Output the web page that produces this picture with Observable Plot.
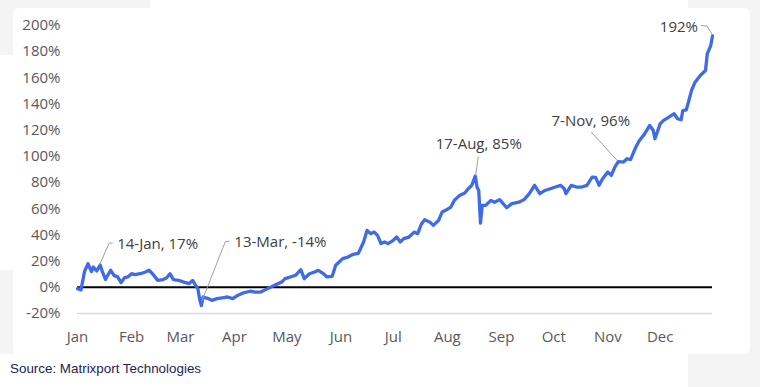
<!DOCTYPE html>
<html>
<head>
<meta charset="utf-8">
<script src="https://cdn.jsdelivr.net/npm/d3@7"></script>
<script src="https://cdn.jsdelivr.net/npm/@observablehq/plot@0.6"></script>
<style>
  html, body { margin: 0; padding: 0; background: #ffffff; }
  #page { position: relative; width: 760px; height: 387px; overflow: hidden; background: #ffffff; }
  .bg { position: absolute; background: #f4f4f4; }
  #panel { position: absolute; left: 13px; top: 8px; width: 737px; height: 346px; background: #ffffff; border-radius: 6px; }
  #chart { position: absolute; left: 0; top: 0; }
  #caption { position: absolute; left: 10px; top: 360px; font-family: "Liberation Sans", Arial, sans-serif; font-size: 13.4px; line-height: 18px; color: #1c2452; white-space: nowrap; }
</style>
</head>
<body>
<div id="page">
  <div class="bg" style="left:0;top:0;width:150px;height:55px;border-bottom-right-radius:40px;"></div>
  <div class="bg" style="left:0;top:270px;width:14px;height:84px;"></div>
  <div class="bg" style="left:688px;top:0;width:72px;height:387px;"></div>
  <div id="panel"></div>
  <div id="chart"></div>
  <div id="caption">Source: Matrixport Technologies</div>
</div>
<script>
const dates = [
  "2023-01-01","2023-01-03","2023-01-05","2023-01-07","2023-01-09","2023-01-10","2023-01-12","2023-01-14","2023-01-15","2023-01-17",
  "2023-01-18","2023-01-20","2023-01-22","2023-01-24","2023-01-26","2023-01-28","2023-01-30","2023-02-01","2023-02-03","2023-02-06",
  "2023-02-09","2023-02-11","2023-02-13","2023-02-16","2023-02-19","2023-02-21","2023-02-23","2023-02-25","2023-02-28","2023-03-03",
  "2023-03-06","2023-03-08","2023-03-10","2023-03-11","2023-03-12","2023-03-13","2023-03-14","2023-03-17","2023-03-19","2023-03-22",
  "2023-03-25","2023-03-28","2023-03-31","2023-04-03","2023-04-06","2023-04-10","2023-04-13","2023-04-16","2023-04-20","2023-04-24",
  "2023-04-28","2023-04-30","2023-05-03","2023-05-06","2023-05-09","2023-05-11","2023-05-14","2023-05-17","2023-05-19","2023-05-22",
  "2023-05-24","2023-05-27","2023-05-29","2023-05-31","2023-06-02","2023-06-05","2023-06-08","2023-06-11","2023-06-14","2023-06-16",
  "2023-06-18","2023-06-20","2023-06-22","2023-06-24","2023-06-26","2023-06-28","2023-07-01","2023-07-03","2023-07-05","2023-07-07",
  "2023-07-10","2023-07-13","2023-07-15","2023-07-17","2023-07-19","2023-07-22","2023-07-24","2023-07-27","2023-07-29","2023-07-31",
  "2023-08-03","2023-08-05","2023-08-08","2023-08-11","2023-08-13","2023-08-15","2023-08-17","2023-08-18","2023-08-19","2023-08-20",
  "2023-08-21","2023-08-23","2023-08-24","2023-08-26","2023-08-28","2023-08-31","2023-09-02","2023-09-04","2023-09-07","2023-09-11",
  "2023-09-14","2023-09-17","2023-09-20","2023-09-23","2023-09-26","2023-09-29","2023-10-02","2023-10-05","2023-10-07","2023-10-08",
  "2023-10-11","2023-10-14","2023-10-17","2023-10-20","2023-10-23","2023-10-25","2023-10-27","2023-10-29","2023-11-01","2023-11-03",
  "2023-11-05","2023-11-07","2023-11-10","2023-11-12","2023-11-14","2023-11-17","2023-11-19","2023-11-22","2023-11-25","2023-11-27",
  "2023-11-28","2023-11-30","2023-12-01","2023-12-03","2023-12-06","2023-12-09","2023-12-11","2023-12-13","2023-12-14","2023-12-16",
  "2023-12-19","2023-12-21","2023-12-24","2023-12-27","2023-12-28","2023-12-30","2023-12-31"
];
const values = [
  -1, -2, 12, 18, 12, 15.5, 12.5, 17, 13, 6,
  8.4, 13, 9, 8, 3.6, 7.4, 8, 10.4, 9.7, 10.4,
  11.7, 13, 10.4, 5.3, 5.9, 7.1, 10.4, 5.9, 5.3, 4,
  2.8, 5.3, 0.8, -1, -9, -14, -7.4, -8.6, -10, -8.6,
  -8, -7.4, -8.6, -6, -4.3, -3, -3.6, -3.6, -1, 1.5,
  4, 6.6, 7.9, 9.2, 13.5, 6.6, 10.4, 11.7, 13, 10.4,
  7.9, 8.4, 16.8, 19.3, 21.9, 23.1, 25.2, 26, 34.6, 43.5,
  41, 42.2, 39.7, 33.4, 34.6, 33.4, 35.9, 38.4, 34.6, 37.2,
  38.4, 42.2, 41, 48, 51.7, 49.8, 47.3, 51.1, 57.5, 58.8,
  61.3, 66.4, 70.2, 72, 75.3, 77.9, 85, 76.6, 74, 49,
  62.6, 62.6, 63.9, 66.4, 65, 67, 63.9, 60.8, 63.9, 65,
  67, 71.5, 77.9, 71.5, 74, 75.3, 76.6, 77.9, 75.3, 71.5,
  77.9, 76.6, 76.6, 77.9, 84.2, 84, 77.9, 83, 88, 85.5,
  91.8, 96, 95.7, 98.2, 97.5, 107, 112, 117, 123.7, 120,
  113.5, 121, 125, 127.5, 130, 132.6, 128.8, 128, 135, 135.6,
  150.4, 156.7, 161.8, 165.6, 178.4, 184.7, 192
];
const yTicks = [-20, 0, 20, 40, 60, 80, 100, 120, 140, 160, 180, 200];
const monthTicks = ["2023-01-01","2023-02-01","2023-03-01","2023-04-01","2023-05-01","2023-06-01",
  "2023-07-01","2023-08-01","2023-09-01","2023-10-01","2023-11-01","2023-12-01"];
const noteDates = ["2023-01-14","2023-03-13","2023-08-17","2023-11-07","2023-12-31"];
const noteValues = [17, -14, 85, 96, 192];
const noteLabels = ["14-Jan, 17%", "13-Mar, -14%", "17-Aug, 85%", "7-Nov, 96%", "192%"];

// label placement (pixel offsets relative to the annotated point)
const noteLayout = [
  {dx: 17, dy: -20.5, anchor: "start", path: [[0, 0], [9.5, -21.5], [13, -21.5]]},
  {dx: 33, dy: -63, anchor: "start", path: [[1, -4], [24.5, -63.5], [28.5, -64]]},
  {dx: 3.5, dy: -31.5, anchor: "middle", path: [[1, 0], [3.5, -19]]},
  {dx: -27.5, dy: -40.5, anchor: "middle", path: [[0, 0], [-26.5, -29]]},
  {dx: -14.5, dy: -9, anchor: "end", path: [[0, -1], [-5, -9.5], [-11, -10]]}
];

const data = dates.map((d, i) => ({date: new Date(d), value: values[i]}));
const notes = noteDates.map((d, i) => ({date: new Date(d), value: noteValues[i], label: noteLabels[i]}));
const fmtPct = d => (d < 0 ? "-" + Math.abs(d) : String(d)) + "%";

const plot = Plot.plot({
  width: 760,
  height: 350,
  marginLeft: 77,
  marginRight: 48,
  marginTop: 25,
  marginBottom: 37,
  style: {fontFamily: "'Open Sans', sans-serif", fontSize: "15px", background: "transparent", color: "#595959"},
  x: {type: "utc", domain: [new Date("2023-01-01"), new Date("2023-12-31")]},
  y: {domain: [-20, 200]},
  marks: [
    Plot.ruleY([-20], {stroke: "#dcdcdc", strokeWidth: 1.5}),
    Plot.axisY({ticks: yTicks, tickFormat: fmtPct, tickSize: 0, tickPadding: 17, label: null, fill: "#595959"}),
    Plot.axisX({ticks: monthTicks.map(d => new Date(d)), tickFormat: d3.utcFormat("%b"), tickSize: 0, tickPadding: 18, label: null, fill: "#595959"}),
    Plot.ruleY([0], {stroke: "#000000", strokeWidth: 2}),
    Plot.line(data, {x: "date", y: "value", stroke: "#3f6be8", strokeWidth: 3.3, strokeLinejoin: "round"}),
    ...notes.map((n, i) => Plot.text([n], {
      x: "date", y: "value", text: "label",
      dx: noteLayout[i].dx, dy: noteLayout[i].dy,
      textAnchor: noteLayout[i].anchor, fill: "#404040", fontSize: 15
    }))
  ]
});

document.getElementById("chart").appendChild(plot);

// leader lines from each annotated point, positioned through the plot's scales
const sx = plot.scale("x"), sy = plot.scale("y");
const svg = d3.select(plot);
const g = svg.append("g").attr("fill", "none").attr("stroke", "#a0a0a0").attr("stroke-width", 1);
notes.forEach((n, i) => {
  const px = sx.apply(n.date), py = sy.apply(n.value);
  const pts = noteLayout[i].path.map(([ox, oy]) => [px + ox, py + oy]);
  g.append("path").attr("d", d3.line()(pts));
});
</script>
</body>
</html>
